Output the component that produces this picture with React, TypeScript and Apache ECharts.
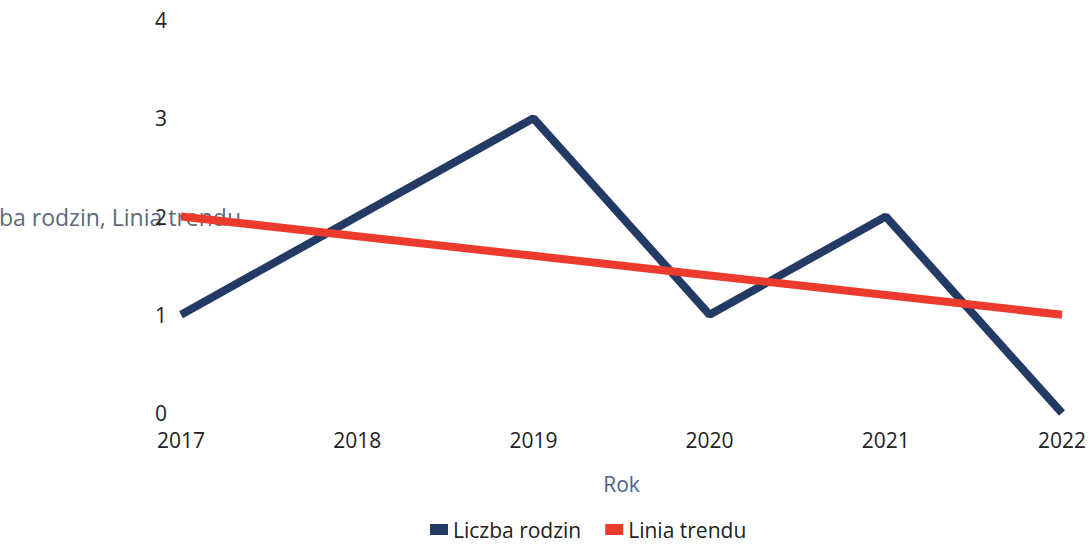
import React, { useEffect, useRef } from "react";
import * as echarts from "echarts";

const years = ["2017", "2018", "2019", "2020", "2021", "2022"];
const familyCount = [1, 2, 3, 1, 2, 0];
const trendLine = [2, 1.8, 1.6, 1.4, 1.2, 1.0];
const yTicks = [0, 1, 2, 3, 4];

export default function App() {
  const ref = useRef<HTMLDivElement>(null);
  useEffect(() => {
    const chart = echarts.init(ref.current!, null, { renderer: "svg" });
    const font = "'Open Sans', 'Noto Sans', sans-serif";
    chart.setOption({
      animation: false,
      textStyle: { fontFamily: font },
      grid: { left: 181, right: 29, top: 20, bottom: 132, outerBoundsMode: "none", containLabel: false },
      legend: {
        left: 425,
        top: 514,
        itemWidth: 18,
        itemHeight: 11,
        itemGap: 24,
        icon: "rect",
        textStyle: { fontSize: 21, color: "#222", fontFamily: font },
        data: ["Liczba rodzin", "Linia trendu"],
      },
      xAxis: {
        type: "category",
        data: years,
        boundaryGap: false,
        axisLine: { show: false },
        axisTick: { show: false },
        axisLabel: { fontSize: 21, color: "#222", margin: 16, fontFamily: font },
        name: "Rok",
        nameLocation: "middle",
        nameGap: 60,
        nameMoveOverlap: false,
        nameTextStyle: { fontSize: 21, color: "#4a6290", fontFamily: font },
      },
      yAxis: {
        type: "value",
        min: yTicks[0],
        max: yTicks[yTicks.length - 1],
        interval: 1,
        splitLine: { show: false },
        axisLine: { show: false },
        axisTick: { show: false },
        axisLabel: { fontSize: 21, color: "#222", margin: 14, fontFamily: font },
        name: "Liczba rodzin, Linia trendu",
        nameLocation: "middle",
        nameRotate: 0,
        nameGap: -60,
        nameMoveOverlap: false,
        nameTextStyle: { fontSize: 23, color: "#5b6b7c", fontFamily: font },
      },
      series: [
        {
          name: "Liczba rodzin",
          type: "line",
          data: familyCount,
          showSymbol: false,
          symbol: "none",
          color: "#233a64",
          lineStyle: { width: 8, color: "#233a64" },
        },
        {
          name: "Linia trendu",
          type: "line",
          data: trendLine,
          showSymbol: false,
          symbol: "none",
          color: "#ec3b2c",
          lineStyle: { width: 8, color: "#ec3b2c" },
        },
      ],
    });
    return () => chart.dispose();
  }, []);
  return (
    <div
      ref={ref}
      style={{ position: "absolute", left: 0, top: 0, width: 1091, height: 545 }}
    />
  );
}
